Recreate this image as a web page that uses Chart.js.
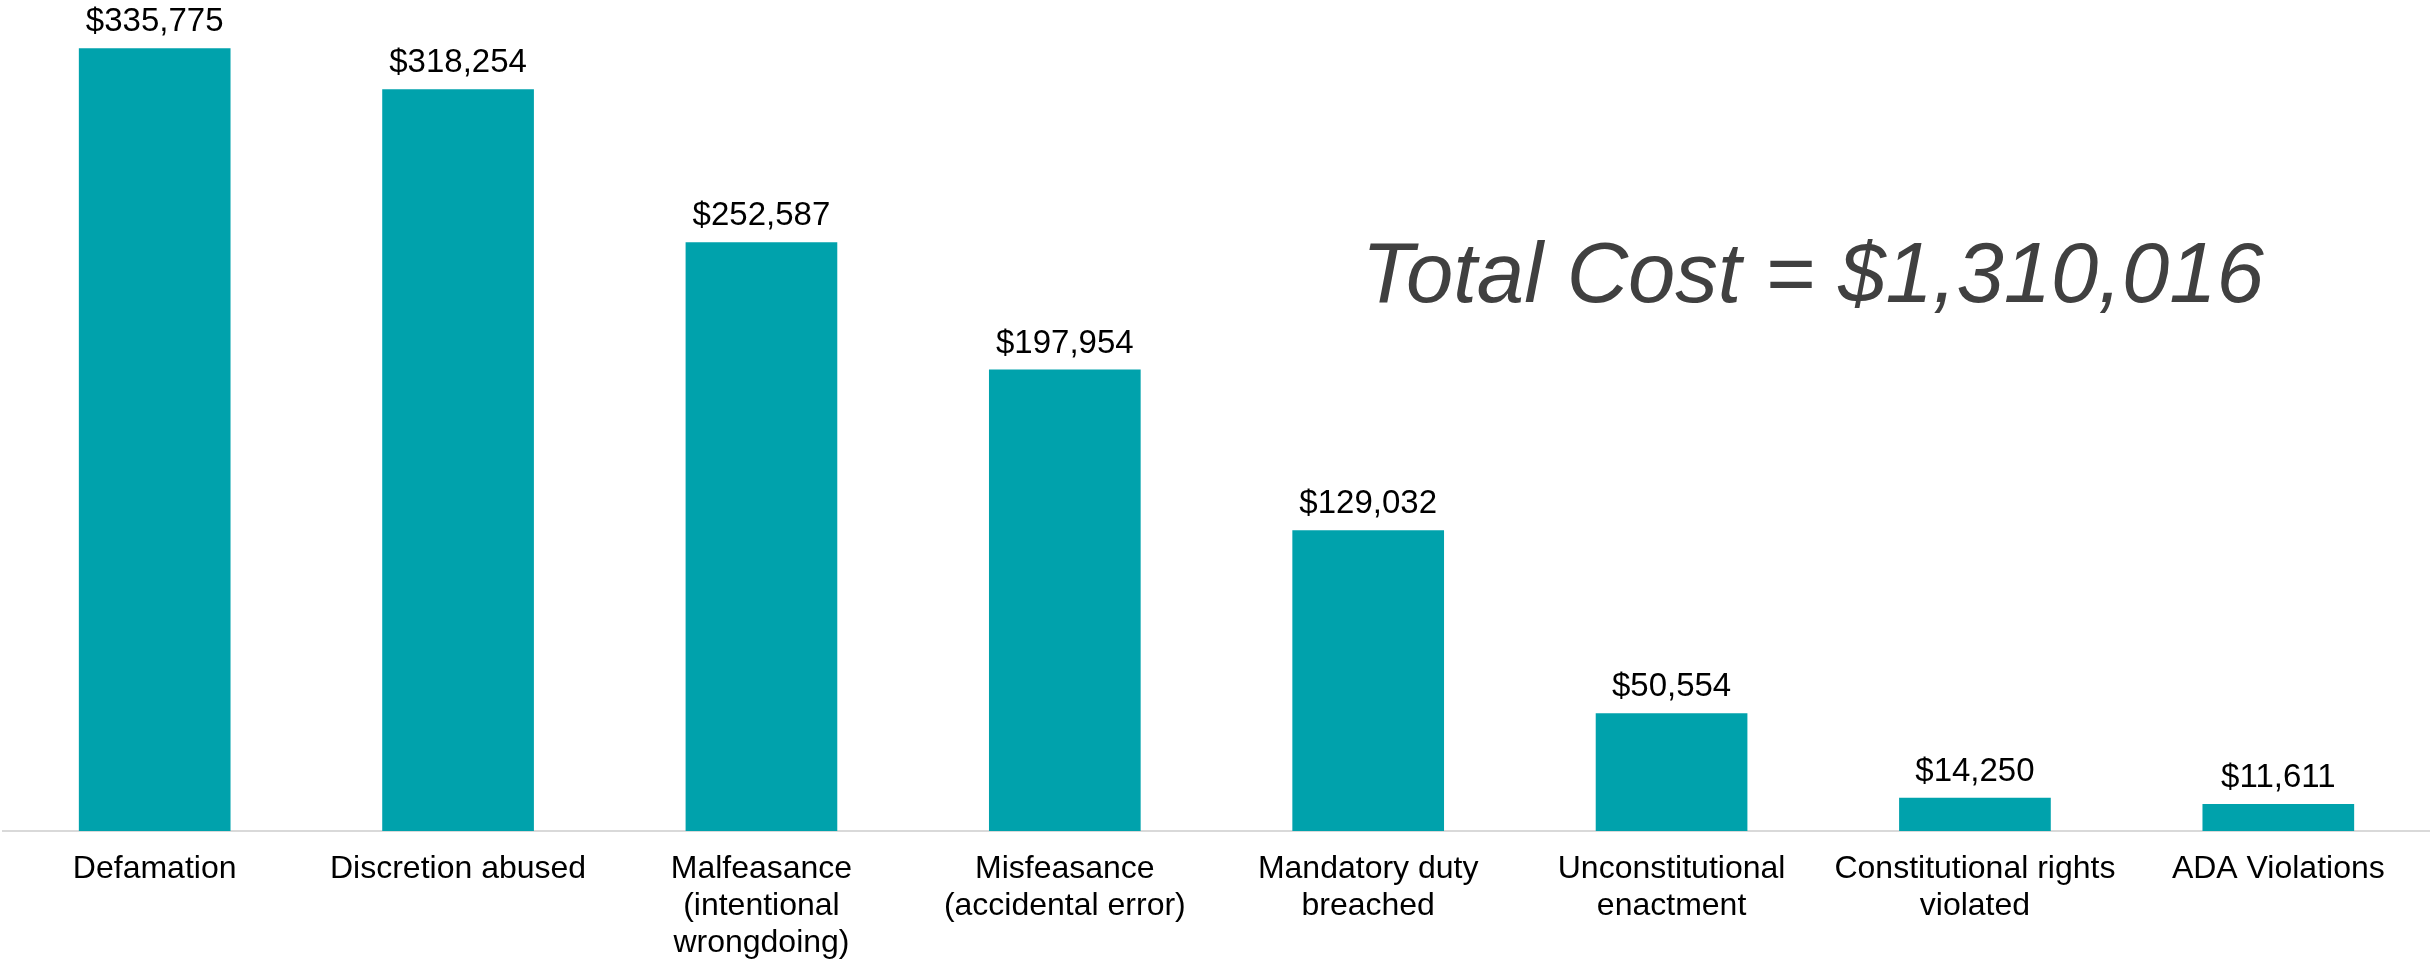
<!DOCTYPE html>
<html>
<head>
<meta charset="utf-8">
<script src="https://cdn.jsdelivr.net/npm/chart.js@4"></script>
<style>
  html, body { margin: 0; padding: 0; background: #fff; }
  #wrap { width: 2430px; height: 961px; position: relative; }
</style>
</head>
<body>
<div id="wrap"><canvas id="grafico"></canvas></div>
<script>
// Dati del grafico
const categories = [
    'Defamation',
    'Discretion abused',
    ['Malfeasance', '(intentional', 'wrongdoing)'],
    ['Misfeasance', '(accidental error)'],
    ['Mandatory duty', 'breached'],
    ['Unconstitutional', 'enactment'],
    ['Constitutional rights', 'violated'],
    'ADA Violations'
];
const costs = [335775, 318254, 252587, 197954, 129032, 50554, 14250, 11611];
const totalLabel = 'Total Cost = $1,310,016';

Chart.defaults.font.family = "'Liberation Sans', Arial, sans-serif";
Chart.defaults.color = '#000';

// etichette sopra le barre + testo del totale
const etichette = {
    id: 'etichette',
    afterDatasetsDraw(chart) {
        const ctx = chart.ctx;
        const meta = chart.getDatasetMeta(0);
        ctx.save();
        ctx.font = "33px 'Liberation Sans', Arial, sans-serif";
        ctx.fillStyle = '#000';
        ctx.textAlign = 'center';
        ctx.textBaseline = 'alphabetic';
        meta.data.forEach((bar, i) => {
            ctx.fillText('$' + costs[i].toLocaleString('en-US'), bar.x, bar.y - 17);
        });

        // totale in corsivo
        ctx.font = "italic 85px 'Liberation Sans', Arial, sans-serif";
        ctx.fillStyle = '#404040';
        ctx.fillText(totalLabel, chart.width * 0.746, 302);
        ctx.restore();
    }
};

const ctx = document.getElementById('grafico').getContext('2d');

new Chart(ctx, {
    type: 'bar',
    data: {
        labels: categories,
        datasets: [{
            data: costs,
            backgroundColor: '#00A2AC',
            borderWidth: 0,
            categoryPercentage: 1,
            barPercentage: 0.5
        }]
    },
    options: {
        responsive: true,
        maintainAspectRatio: false,
        animation: false,
        layout: { padding: { left: 3, right: 0, top: 0, bottom: 0 } },
        plugins: {
            legend: { display: false },
            tooltip: { enabled: false }
        },
        scales: {
            x: {
                grid: { display: false, drawTicks: false },
                border: { display: true, color: '#d9d9d9', width: 2 },
                ticks: {
                    color: '#000',
                    padding: 20,
                    maxRotation: 0,
                    autoSkip: false,
                    font: { size: 32, lineHeight: 1.15 }
                },
                afterFit(scale) { scale.height = 130; }
            },
            y: {
                display: false,
                min: 0,
                max: 356500
            }
        }
    },
    plugins: [etichette]
});
</script>
</body>
</html>
